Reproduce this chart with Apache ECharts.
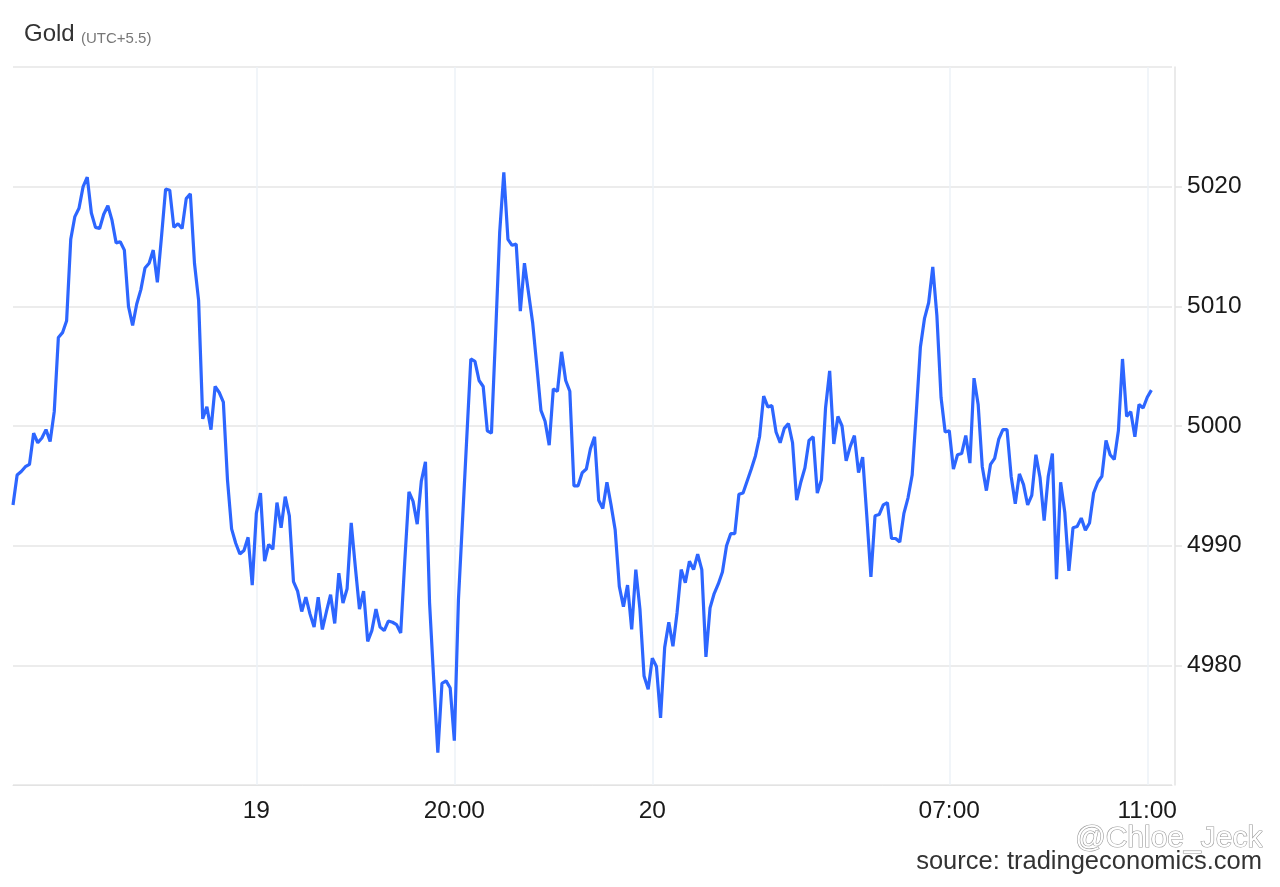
<!DOCTYPE html>
<html>
<head>
<meta charset="utf-8">
<title>Gold</title>
<script src="https://cdn.jsdelivr.net/npm/echarts@6/dist/echarts.min.js"></script>
<style>
  html, body { margin: 0; padding: 0; background: #fff; }
  #chart { width: 1280px; height: 887px; }
</style>
</head>
<body>
<div id="chart"></div>
<script>
// gold price, 5 min bars
const prices = [
  4993.4, 4995.9, 4996.2, 4996.6, 4996.8, 4999.4, 4998.6, 4999.0, 4999.7, 4998.7,
  5001.2, 5007.4, 5007.8, 5008.8, 5015.6, 5017.5, 5018.2, 5020.0, 5020.8, 5017.8,
  5016.6, 5016.5, 5017.7, 5018.4, 5017.2, 5015.3, 5015.4, 5014.7, 5010.0, 5008.4,
  5010.2, 5011.4, 5013.2, 5013.6, 5014.7, 5012.0, 5015.8, 5019.8, 5019.7, 5016.6,
  5016.9, 5016.5, 5019.0, 5019.4, 5013.6, 5010.5, 5000.6, 5001.6, 4999.7, 5003.3,
  5002.8, 5002.0, 4995.5, 4991.4, 4990.2, 4989.3, 4989.6, 4990.7, 4986.7, 4992.7,
  4994.4, 4988.7, 4990.1, 4989.7, 4993.6, 4991.5, 4994.1, 4992.5, 4987.0, 4986.2,
  4984.5, 4985.7, 4984.3, 4983.2, 4985.7, 4983.0, 4984.5, 4985.9, 4983.5, 4987.7,
  4985.2, 4986.4, 4991.9, 4988.2, 4984.7, 4986.2, 4982.0, 4982.9, 4984.7, 4983.2,
  4982.9, 4983.7, 4983.6, 4983.4, 4982.7, 4988.8, 4994.5, 4993.7, 4991.8, 4995.4,
  4997.0, 4985.2, 4978.8, 4972.7, 4978.5, 4978.7, 4978.1, 4973.7, 4985.5, 4992.2,
  4998.9, 5005.6, 5005.4, 5003.8, 5003.3, 4999.6, 4999.4, 5007.6, 5016.2, 5021.2,
  5015.6, 5015.1, 5015.2, 5009.6, 5013.6, 5011.1, 5008.6, 5005.0, 5001.3, 5000.4,
  4998.4, 5003.1, 5002.9, 5006.2, 5003.8, 5002.9, 4995.0, 4995.0, 4996.1, 4996.4,
  4998.1, 4999.1, 4993.8, 4993.1, 4995.3, 4993.4, 4991.3, 4986.6, 4984.9, 4986.7,
  4983.0, 4988.0, 4984.7, 4979.1, 4978.0, 4980.6, 4979.9, 4975.6, 4981.5, 4983.6,
  4981.6, 4984.4, 4988.0, 4986.9, 4988.7, 4988.0, 4989.3, 4988.0, 4980.7, 4984.8,
  4986.0, 4986.8, 4987.8, 4990.0, 4991.0, 4991.0, 4994.3, 4994.4, 4995.4, 4996.4,
  4997.5, 4999.1, 5002.5, 5001.6, 5001.7, 4999.5, 4998.6, 4999.8, 5000.2, 4998.6,
  4993.8, 4995.3, 4996.5, 4998.8, 4999.1, 4994.4, 4995.5, 5001.5, 5004.6, 4998.5,
  5000.8, 5000.0, 4997.1, 4998.3, 4999.2, 4996.1, 4997.4, 4992.5, 4987.4, 4992.5,
  4992.6, 4993.4, 4993.6, 4990.6, 4990.6, 4990.3, 4992.7, 4994.0, 4995.9, 5001.1,
  5006.6, 5009.0, 5010.3, 5013.3, 5009.2, 5002.4, 4999.5, 4999.6, 4996.4, 4997.6,
  4997.7, 4999.2, 4996.9, 5004.0, 5001.8, 4996.6, 4994.6, 4996.8, 4997.3, 4998.9,
  4999.7, 4999.7, 4995.8, 4993.5, 4996.0, 4995.1, 4993.4, 4994.2, 4997.6, 4995.7,
  4992.1, 4995.8, 4997.7, 4987.2, 4995.3, 4992.8, 4987.9, 4991.5, 4991.6, 4992.3,
  4991.3, 4991.9, 4994.4, 4995.3, 4995.8, 4998.8, 4997.6, 4997.2, 4999.6, 5005.6,
  5000.8, 5001.2, 4999.1, 5001.8, 5001.5, 5002.4, 5003.0
];
const tickLabels = ['19', '20:00', '20', '07:00', '11:00'];
const tickSlots = [59, 107, 155, 227, 275];
const emptySlots = 5; // axis runs a bit past the last bar

const categories = [];
for (let i = 0; i < prices.length + emptySlots; i++) categories.push(i);

const font = "'Liberation Sans', Arial, sans-serif";
const isTick = (idx) => tickSlots.indexOf(idx) !== -1;

const chart = echarts.init(document.getElementById('chart'), null, { renderer: 'canvas' });
chart.setOption({
  animation: false,
  backgroundColor: '#fff',
  grid: { left: 13, right: 108, top: 67, bottom: 102, containLabel: false },
  graphic: [
    { type: 'text', left: 24, top: 22, style: { text: 'Gold', font: '24px ' + font, fill: '#333' } },
    { type: 'text', left: 81, top: 31, style: { text: '(UTC+5.5)', font: '15px ' + font, fill: '#777' } },
    { type: 'text', right: 17, top: 823, style: { text: '@Chloe_Jeck', font: '30px ' + font, fill: '#fff', stroke: '#9a9a9a', lineWidth: 1.2 } },
    { type: 'text', right: 18, top: 849, style: { text: 'source: tradingeconomics.com', font: '25.5px ' + font, fill: '#333' } }
  ],
  xAxis: {
    type: 'category',
    data: categories,
    boundaryGap: false,
    axisLine: { lineStyle: { color: '#e3e3e3', width: 1 } },
    axisTick: { show: false },
    axisLabel: {
      interval: (idx) => isTick(idx),
      formatter: (v, idx) => tickLabels[tickSlots.indexOf(idx)] || '',
      color: '#1a1a1a',
      fontSize: 24.5,
      fontFamily: font,
      margin: 14
    },
    splitLine: {
      show: true,
      interval: (idx) => isTick(idx),
      lineStyle: { color: '#edf2f7', width: 1.5 }
    }
  },
  yAxis: {
    type: 'value',
    position: 'right',
    offset: 3,
    min: 4970,
    max: 5030,
    interval: 10,
    axisLine: { show: true, lineStyle: { color: '#e3e3e3', width: 1.5 } },
    axisTick: { show: true, length: 7, lineStyle: { color: '#e3e3e3', width: 1.5 } },
    axisLabel: {
      showMinLabel: false,
      showMaxLabel: false,
      formatter: (v) => String(v),
      color: '#1a1a1a',
      fontSize: 24.5,
      fontFamily: font,
      margin: 12
    },
    splitLine: { lineStyle: { color: '#e6e6e6', width: 1.5 } }
  },
  series: [{
    type: 'line',
    data: prices,
    showSymbol: false,
    symbol: 'none',
    lineStyle: { color: '#2d66ff', width: 3.2 },
    itemStyle: { color: '#2d66ff' }
  }]
});
</script>
</body>
</html>
